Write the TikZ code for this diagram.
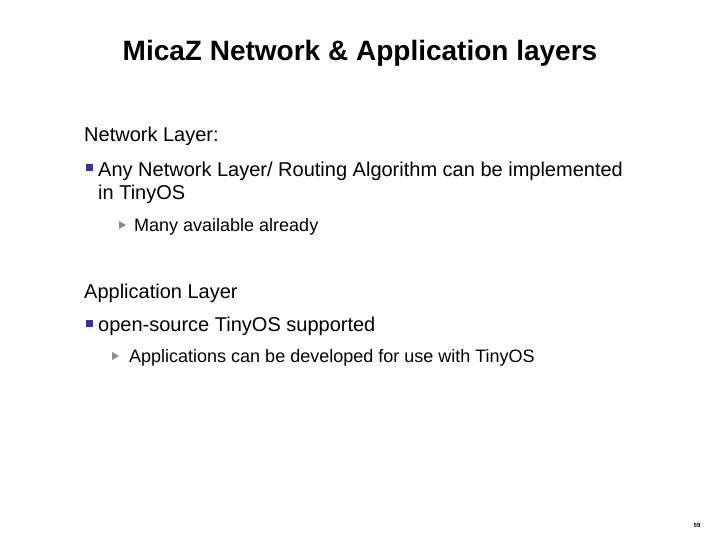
\documentclass[tikz,border=0pt]{standalone}
\usepackage{fontspec}
\setmainfont{Liberation Sans}
\definecolor{bul}{RGB}{51,51,153}
\definecolor{tri}{RGB}{140,140,140}
\begin{document}
\begin{tikzpicture}[x=1pt,y=-1pt,
  txt/.style={anchor=base west,inner sep=0pt,font=\fontsize{20}{22}\selectfont},
  sub/.style={anchor=base west,inner sep=0pt,font=\fontsize{18}{20}\selectfont}]
\useasboundingbox[fill=white] (0,0) rectangle (720,540);
\node[inner sep=0pt,anchor=base,font=\bfseries\fontsize{28}{30}\selectfont] (title) at (360,61) {MicaZ Network \& Application layers};
\node[txt] (nl) at (84,142) {Network Layer:};
\fill[bul] (86,164) rectangle (93,171);
\node[txt] (b1) at (98,177) {Any Network Layer/ Routing Algorithm can be implemented};
\node[txt] (b1b) at (98,200) {in TinyOS};
\fill[tri] (119,221) -- (126,225) -- (119,229) -- cycle;
\node[sub] (s1) at (134,231) {Many available already};
\node[txt] (al) at (84,298) {Application Layer};
\fill[bul] (86,320) rectangle (93,327);
\node[txt] (b2) at (98,331) {open-source TinyOS supported};
\fill[tri] (112,352) -- (119,356) -- (112,360) -- cycle;
\node[sub] (s2) at (129,362) {Applications can be developed for use with TinyOS};
\node[inner sep=0pt,font=\bfseries\fontsize{6}{7}\selectfont] (pg) at (697,525) {59};
\end{tikzpicture}
\end{document}
